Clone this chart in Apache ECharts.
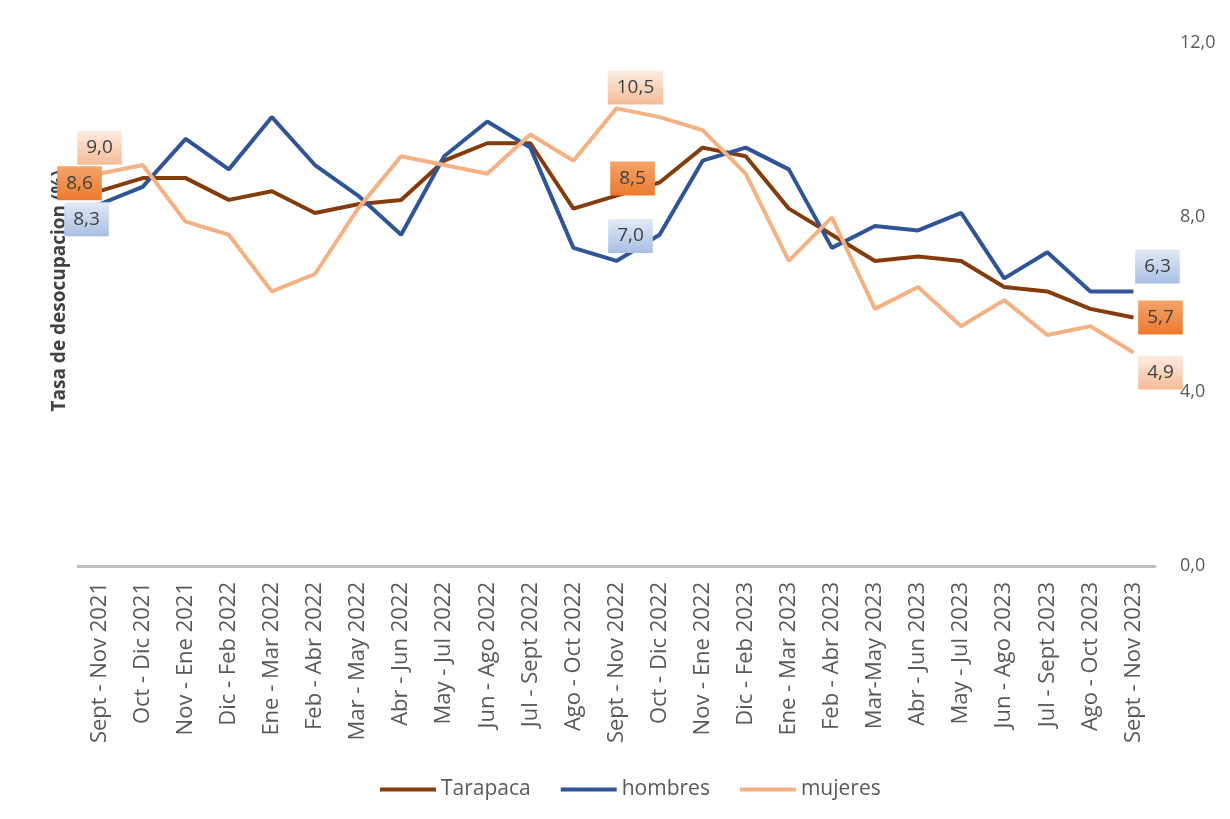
<!DOCTYPE html>
<html>
<head>
<meta charset="utf-8">
<script src="https://cdn.jsdelivr.net/npm/echarts@6/dist/echarts.min.js"></script>
<style>
  html, body { margin: 0; padding: 0; background: #fff; }
  #chart { width: 1230px; height: 819px; }
</style>
</head>
<body>
<div id="chart"></div>
<script>
// categorias (trimestres moviles)
const periodos = [
  'Sept - Nov 2021', 'Oct - Dic 2021', 'Nov - Ene 2021', 'Dic - Feb 2022', 'Ene - Mar 2022',
  'Feb - Abr 2022', 'Mar - May 2022', 'Abr - Jun 2022', 'May - Jul 2022', 'Jun - Ago 2022',
  'Jul - Sept 2022', 'Ago - Oct 2022', 'Sept - Nov 2022', 'Oct - Dic 2022', 'Nov - Ene 2022',
  'Dic - Feb 2023', 'Ene - Mar 2023', 'Feb - Abr 2023', 'Mar-May 2023', 'Abr - Jun 2023',
  'May - Jul 2023', 'Jun - Ago 2023', 'Jul - Sept 2023', 'Ago - Oct 2023', 'Sept - Nov 2023'
]

const tarapaca = [8.6, 8.9, 8.9, 8.4, 8.6, 8.1, 8.3, 8.4, 9.3, 9.7, 9.7, 8.2, 8.5,
  8.8, 9.6, 9.4, 8.2, 7.6, 7.0, 7.1, 7.0, 6.4, 6.3, 5.9, 5.7]
const hombres = [8.3, 8.7, 9.8, 9.1, 10.3, 9.2, 8.5, 7.6, 9.4, 10.2, 9.6, 7.3, 7.0,
  7.6, 9.3, 9.6, 9.1, 7.3, 7.8, 7.7, 8.1, 6.6, 7.2, 6.3, 6.3]
const mujeres = [9.0, 9.2, 7.9, 7.6, 6.3, 6.7, 8.2, 9.4, 9.2, 9.0, 9.9, 9.3, 10.5,
  10.3, 10.0, 9.0, 7.0, 8.0, 5.9, 6.4, 5.5, 6.1, 5.3, 5.5, 4.9]

const yTicks = [0, 4, 8, 12]

// puntos con etiqueta: indice -> desplazamiento del cuadro
const etiquetasTarapaca = { 0: [-20, -8], 12: [16, -17], 24: [27, 0] }
const etiquetasHombres = { 0: [-13, 15], 12: [14, -25], 24: [24, -25] }
const etiquetasMujeres = { 0: [0, -26], 12: [19, -21], 24: [27, 20] }

const fmt = v => v.toFixed(1).replace('.', ',')

function grad(top, bottom) {
  return new echarts.graphic.LinearGradient(0, 0, 0, 1, [
    { offset: 0, color: top },
    { offset: 1, color: bottom }
  ])
}

function buildData(values, labels, bg) {
  return values.map((v, i) => {
    if (!labels[i]) return v
    return {
      value: v,
      label: {
        show: true,
        position: 'inside',
        offset: labels[i],
        formatter: p => fmt(p.value),
        color: '#404040',
        fontFamily: 'Open Sans',
        fontSize: 19,
        lineHeight: 20,
        padding: [7, 9],
        backgroundColor: bg
      }
    }
  })
}

const myChart = echarts.init(document.getElementById('chart'))

const lineSeries = (name, values, color, labels, bg) => ({
  name: name,
  type: 'line',
  data: buildData(values, labels, bg),
  symbol: 'circle',
  symbolSize: 0,
  showAllSymbol: true,
  lineStyle: { color: color, width: 4 },
  itemStyle: { color: color },
  emphasis: { disabled: true },
  label: { show: false }
})

const option = {
  animation: false,
  grid: { left: 78, right: 75, top: 43, bottom: 253 },
  legend: {
    left: 375,
    top: 774,
    icon: 'rect',
    itemWidth: 56,
    itemHeight: 4,
    itemGap: 30,
    textStyle: { color: '#595959', fontFamily: 'Open Sans', fontSize: 21 },
    data: ['Tarapaca', 'hombres', 'mujeres']
  },
  xAxis: {
    type: 'category',
    data: periodos,
    boundaryGap: true,
    axisLine: { lineStyle: { color: '#BFBFBF', width: 3 } },
    axisTick: { show: false },
    axisLabel: {
      interval: 0,
      rotate: 90,
      margin: 16,
      color: '#595959',
      fontFamily: 'Open Sans',
      fontSize: 22
    }
  },
  yAxis: {
    type: 'value',
    position: 'right',
    min: yTicks[0],
    max: yTicks[yTicks.length - 1],
    interval: 4,
    axisLine: { show: false },
    axisTick: { show: false },
    splitLine: { show: false },
    axisLabel: {
      margin: 25,
      color: '#595959',
      fontFamily: 'Open Sans',
      fontSize: 18,
      formatter: v => fmt(v)
    }
  },
  graphic: [{
    type: 'text',
    left: 50,
    top: 170,
    rotation: Math.PI / 2,
    style: {
      text: 'Tasa de desocupacion (%)',
      fill: '#404040',
      font: 'bold 19px "Open Sans"'
    }
  }],
  series: [
    lineSeries('Tarapaca', tarapaca, '#843C0C', etiquetasTarapaca, grad('#F4A468', '#EB7A2E')),
    lineSeries('hombres', hombres, '#2F5597', etiquetasHombres, grad('#E2EAF6', '#A9BFE3')),
    lineSeries('mujeres', mujeres, '#F4B183', etiquetasMujeres, grad('#FDEDE3', '#F5BB95'))
  ]
}

myChart.setOption(option)
</script>
</body>
</html>
